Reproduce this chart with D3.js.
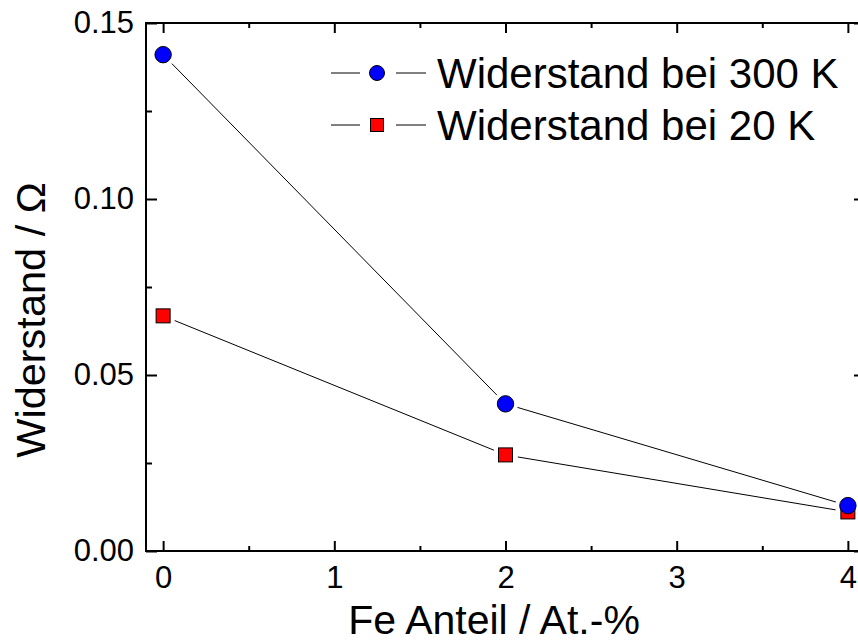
<!DOCTYPE html>
<html>
<head>
<meta charset="utf-8">
<script src="https://cdn.jsdelivr.net/npm/d3@7"></script>
<style>
html,body{margin:0;padding:0;background:#fff;}
svg{display:block;font-family:"Liberation Sans",Arial,sans-serif;}
</style>
</head>
<body>
<svg id="chart" width="858" height="643"></svg>
<script>
// ---- data ----
const feAnteil = [0, 2, 4];
const r300K = [0.141, 0.0418, 0.0129];
const r20K = [0.0668, 0.0273, 0.0111];
const seriesNames = ["Widerstand bei 300 K", "Widerstand bei 20 K"];
const xTicks = [0, 1, 2, 3, 4];
const xMinorTicks = [0.5, 1.5, 2.5, 3.5];
const yTicks = [0.00, 0.05, 0.10, 0.15];
const yMinorTicks = [0.025, 0.075, 0.125];
const xTitle = "Fe Anteil / At.-%";
const yTitle = "Widerstand / Ω";

const svg = d3.select("#chart");
const L = 146, R = 865, T = 23, B = 551;
const x = d3.scaleLinear().domain([-0.1, 4.1]).range([L, R]);
const y = d3.scaleLinear().domain([0, 0.15]).range([B, T]);

function styleAxis(g){
  g.select(".domain").remove();
  g.selectAll(".tick line").attr("stroke","#000").attr("stroke-width",2);
  g.selectAll(".tick text").attr("fill","#000").style("font-size","31px").style("font-family","'Liberation Sans',Arial,sans-serif");
}

// bottom axis
svg.append("g").attr("transform",`translate(0,${B})`)
  .call(d3.axisBottom(x).tickValues(xTicks).tickFormat(d3.format("d")).tickSize(-10).tickPadding(15))
  .call(styleAxis);
svg.append("g").attr("transform",`translate(0,${B})`)
  .call(d3.axisBottom(x).tickValues(xMinorTicks).tickFormat("").tickSize(-5))
  .call(styleAxis);
// top axis
svg.append("g").attr("transform",`translate(0,${T})`)
  .call(d3.axisTop(x).tickValues(xTicks).tickFormat("").tickSize(-10))
  .call(styleAxis);
svg.append("g").attr("transform",`translate(0,${T})`)
  .call(d3.axisTop(x).tickValues(xMinorTicks).tickFormat("").tickSize(-5))
  .call(styleAxis);
// left axis
svg.append("g").attr("transform",`translate(${L},0)`)
  .call(d3.axisLeft(y).tickValues(yTicks).tickFormat(d3.format(".2f")).tickSize(-11).tickPadding(12))
  .call(styleAxis);
svg.append("g").attr("transform",`translate(${L},0)`)
  .call(d3.axisLeft(y).tickValues(yMinorTicks).tickFormat("").tickSize(-6))
  .call(styleAxis);
// right axis
svg.append("g").attr("transform",`translate(${R},0)`)
  .call(d3.axisRight(y).tickValues(yTicks).tickFormat("").tickSize(-11))
  .call(styleAxis);
svg.append("g").attr("transform",`translate(${R},0)`)
  .call(d3.axisRight(y).tickValues(yMinorTicks).tickFormat("").tickSize(-6))
  .call(styleAxis);

// frame
svg.append("rect").attr("x",L).attr("y",T).attr("width",R-L).attr("height",B-T)
  .attr("fill","none").attr("stroke","#000").attr("stroke-width",2);

// connecting lines with gaps near markers
function drawSegments(vals){
  const gap = 12.5;
  for(let i=0;i<vals.length-1;i++){
    const x1=x(feAnteil[i]), y1=y(vals[i]), x2=x(feAnteil[i+1]), y2=y(vals[i+1]);
    const dx=x2-x1, dy=y2-y1, len=Math.hypot(dx,dy);
    const ux=dx/len, uy=dy/len;
    svg.append("line")
      .attr("x1",x1+ux*gap).attr("y1",y1+uy*gap)
      .attr("x2",x2-ux*gap).attr("y2",y2-uy*gap)
      .attr("stroke","#000").attr("stroke-width",1);
  }
}
drawSegments(r300K);
drawSegments(r20K);

// markers: squares (20 K) below circles (300 K)
const sq = 14;
svg.append("g").selectAll("rect").data(feAnteil).join("rect")
  .attr("x",(d)=>x(d)-sq/2).attr("y",(d,i)=>y(r20K[i])-sq/2)
  .attr("width",sq).attr("height",sq)
  .attr("fill","#ff0000").attr("stroke","#000").attr("stroke-width",1);
svg.append("g").selectAll("circle").data(feAnteil).join("circle")
  .attr("cx",(d)=>x(d)).attr("cy",(d,i)=>y(r300K[i])).attr("r",8.2)
  .attr("fill","#0000ff").attr("stroke","#000").attr("stroke-width",1);

// legend
const leg = svg.append("g");
const legRows = [{name:seriesNames[0],type:"circle",y:73},{name:seriesNames[1],type:"square",y:125}];
legRows.forEach(r=>{
  leg.append("line").attr("x1",331).attr("x2",360).attr("y1",r.y).attr("y2",r.y).attr("stroke","#000").attr("stroke-width",1);
  leg.append("line").attr("x1",396).attr("x2",426).attr("y1",r.y).attr("y2",r.y).attr("stroke","#000").attr("stroke-width",1);
  if(r.type==="circle"){
    leg.append("circle").attr("cx",377).attr("cy",r.y).attr("r",7.5).attr("fill","#0000ff").attr("stroke","#000").attr("stroke-width",1);
  } else {
    leg.append("rect").attr("x",377-6.5).attr("y",r.y-6.5).attr("width",13).attr("height",13).attr("fill","#ff0000").attr("stroke","#000").attr("stroke-width",1);
  }
  leg.append("text").attr("x",437).attr("y",r.y+15).style("font-size","42px").attr("fill","#000").text(r.name);
});

// axis titles
svg.append("text").attr("x",494).attr("y",634).attr("text-anchor","middle")
  .style("font-size","41px").attr("fill","#000").text(xTitle);
svg.append("text").attr("transform","translate(45,320) rotate(-90)").attr("text-anchor","middle")
  .style("font-size","41.5px").attr("fill","#000").text(yTitle);
</script>
</body>
</html>
